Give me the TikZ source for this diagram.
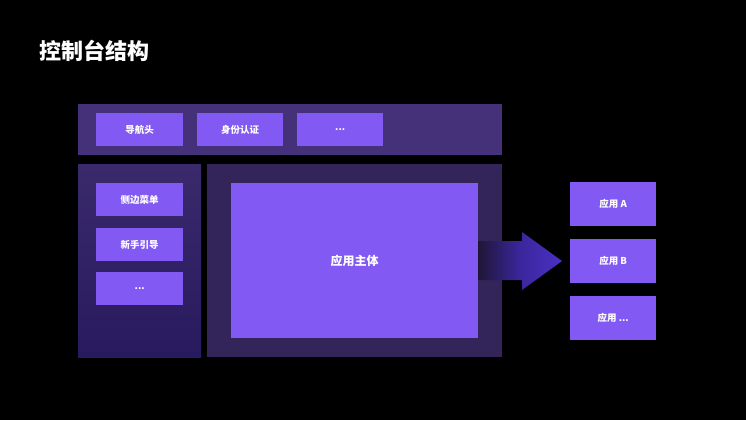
\documentclass[tikz,border=0pt]{standalone}
\usepackage{fontspec}
\newfontfamily\cjk{Noto Sans CJK SC}
\usetikzlibrary{shadings}
\definecolor{bg}{HTML}{000000}
\definecolor{btn}{HTML}{8259F2}
\definecolor{bar}{HTML}{45307A}
\definecolor{mainp}{HTML}{33255A}
\definecolor{sideT}{HTML}{3A2A6C}
\definecolor{sideB}{HTML}{281A5E}
\definecolor{arr}{HTML}{4A30C4}
\begin{document}
\begin{tikzpicture}[x=1pt,y=-1pt,
  btnbox/.style={fill=btn,draw=none,text=white,font=\cjk\bfseries\fontsize{9.5}{11}\selectfont,inner sep=0pt,anchor=north west},
  ]
\fill[bg] (0,0) rectangle (746,420);
\useasboundingbox (0,0) rectangle (746,420);
\node[anchor=west,text=white,font=\cjk\bfseries\fontsize{22}{26}\selectfont,inner sep=0pt] (title) at (39,51) {控制台结构};
% top bar
\fill[bar] (78,104) rectangle (502,155);
\node[btnbox,minimum width=87pt,minimum height=33pt] (n1) at (96,113) {导航头};
\node[btnbox,minimum width=86pt,minimum height=33pt] (n2) at (197,113) {身份认证};
\node[btnbox,minimum width=86pt,minimum height=33pt] (n3) at (297,113) {...};
% side panel
\shade[top color=sideT,bottom color=sideB] (78,164) rectangle (201,357);
\node[btnbox,minimum width=87pt,minimum height=33pt] (s1) at (96,183) {侧边菜单};
\node[btnbox,minimum width=87pt,minimum height=33pt] (s2) at (96,228) {新手引导};
\node[btnbox,minimum width=87pt,minimum height=33pt] (s3) at (96,272) {...};
% main panel
\fill[mainp] (207,164) rectangle (502,357);
\node[btnbox,minimum width=247pt,minimum height=155pt,font=\cjk\bfseries\fontsize{12}{14}\selectfont] (body) at (231,183) {应用主体};
% arrow
\coordinate (tip) at (562,261);
\shade[left color=mainp!60!black,right color=arr,middle color=arr!80!black] (478,241) -- (522,241) -- (522,232) -- (tip) -- (522,290) -- (522,280) -- (478,280) -- cycle;
% apps
\node[btnbox,minimum width=86pt,minimum height=44pt] (a1) at (570,182) {应用 A};
\node[btnbox,minimum width=86pt,minimum height=44pt] (a2) at (570,239) {应用 B};
\node[btnbox,minimum width=86pt,minimum height=44pt] (a3) at (570,296) {应用 ...};
\end{tikzpicture}
\end{document}
